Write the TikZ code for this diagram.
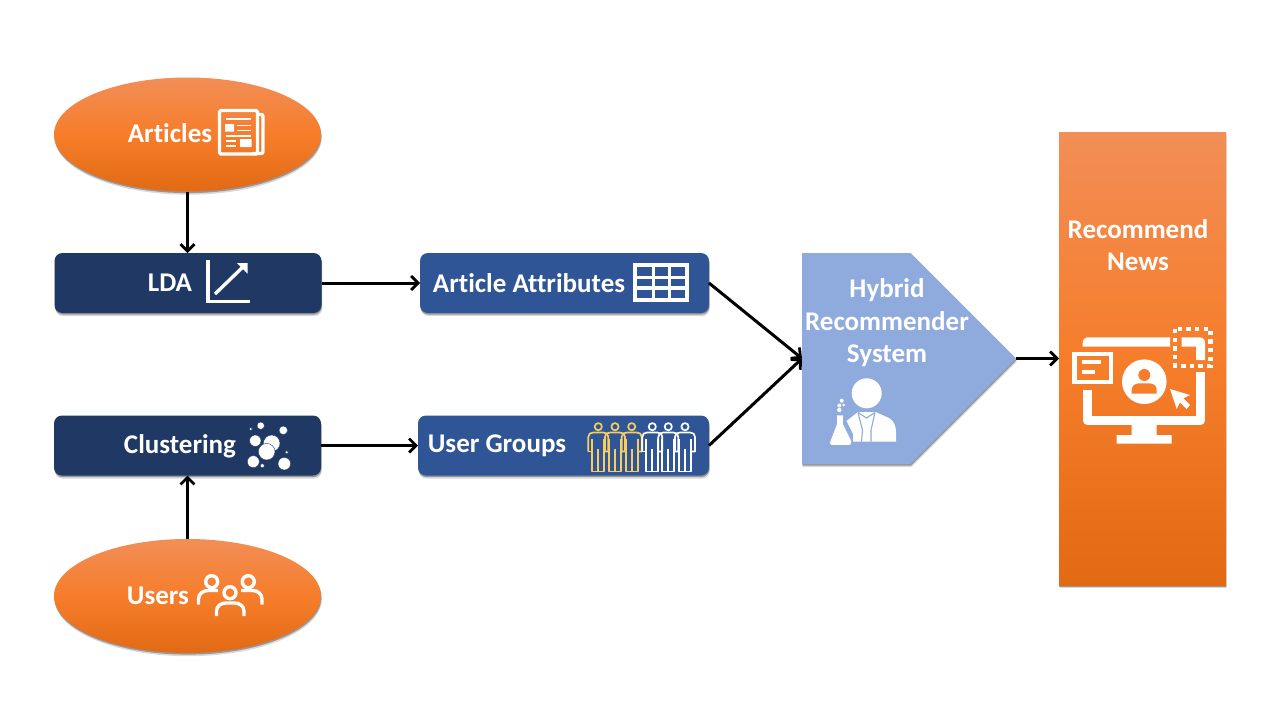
\documentclass[tikz,border=0pt]{standalone}
\usepackage{fontspec}
\setmainfont{Carlito}[Ligatures=NoCommon]
\usetikzlibrary{shapes.geometric,shapes.symbols,shadows,arrows.meta}
\definecolor{ogA}{HTML}{F28E57}
\definecolor{ogB}{HTML}{F67D2A}
\definecolor{ogC}{HTML}{E36A14}
\definecolor{navy}{HTML}{1F3864}
\definecolor{midblue}{HTML}{2F5597}
\definecolor{lightblue}{HTML}{8FAADC}
\definecolor{gold}{HTML}{F7CD5F}
\pgfdeclareverticalshading{orangegrad}{100bp}{color(0bp)=(ogC); color(25bp)=(ogC); color(50bp)=(ogB); color(75bp)=(ogA); color(100bp)=(ogA)}
\tikzset{
  softshadow/.style={drop shadow={shadow xshift=0.8pt,shadow yshift=-3.2pt,opacity=.15,fill=black},
                     drop shadow={shadow xshift=0.4pt,shadow yshift=-1.6pt,opacity=.3,fill=black}},
  orangeoval/.style={ellipse,shade,shading=orangegrad,inner sep=0pt,outer sep=0pt,minimum width=267pt,minimum height=114pt,softshadow},
  darkbox/.style={rectangle,rounded corners=8pt,fill=navy,inner sep=0pt,outer sep=0pt,minimum width=267pt,minimum height=60pt,softshadow},
  bluebox/.style={rectangle,rounded corners=8pt,fill=midblue,inner sep=0pt,outer sep=0pt,minimum height=60pt,softshadow},
  lbl/.style={text=white,font=\fontsize{27}{32.5}\selectfont\bfseries,align=center,inner sep=0pt},
  conn/.style={draw=black,line width=3pt,-{Straight Barb[length=7pt,width=14pt,line width=2.8pt]}},
  ic/.style={draw=white,line width=3.4pt},
  person/.style={line width=1.7pt,line join=round}
}
\newcommand{\personicon}[2]{%
  \draw[person,draw=#2] (#1,426.7) circle (3.6pt);
  \draw[person,draw=#2] (#1-10,451.5) -- (#1-10,437) .. controls (#1-10,434) and (#1-8,432.5) .. (#1-5,432.5) -- (#1+5,432.5) .. controls (#1+8,432.5) and (#1+10,434) .. (#1+10,437) -- (#1+10,451.5) -- (#1+6,451.5);
  \draw[person,draw=#2] (#1-10,451.5) -- (#1-6,451.5);
  \draw[person,draw=#2] (#1-6,439) -- (#1-6,471.5) -- (#1+6,471.5) -- (#1+6,439);
  \draw[person,draw=#2] (#1,449) -- (#1,471.5);
}
\begin{document}
\begin{tikzpicture}[x=1pt,y=-1pt]
\useasboundingbox[fill=white] (0,0) rectangle (1280,720);
% main shapes
\node[orangeoval] (articles) at (187.5,134.5) {};
\node[orangeoval] (users) at (187.5,596) {};
\node[darkbox] (lda) at (188,283) {};
\node[darkbox] (clustering) at (187.5,445.5) {};
\node[bluebox,minimum width=289pt] (attrs) at (564.5,283) {};
\node[bluebox,minimum width=291pt] (groups) at (563.5,445.5) {};
\node[signal,signal from=nowhere,signal to=east,signal pointer angle=90,fill=lightblue,inner sep=0pt,outer sep=0pt,minimum width=214pt,minimum height=211pt,softshadow,anchor=west] (hybrid) at (802,358.5) {};
\node[rectangle,shade,shading=orangegrad,inner sep=0pt,outer sep=0pt,minimum width=167pt,minimum height=453pt,softshadow] (news) at (1142.5,358.5) {};
% connectors
\draw[conn] (articles.south) -- (lda.north -| articles.south);
\draw[conn] (users.north) -- (clustering.south -| users.north);
\draw[conn] (lda.east) -- (attrs.west);
\draw[conn] (clustering.east) -- (groups.west);
\draw[conn] (attrs.east) -- (hybrid.west);
\draw[conn] (groups.east) -- (hybrid.west);
\draw[conn] (hybrid.east) -- (news.west |- hybrid.east);
% labels
\node[lbl] (tArticles) at (170,133) {Articles};
\node[lbl] (tLda) at (170,283) {LDA};
\node[lbl] (tAttrs) at (529,283) {Article Attributes};
\node[lbl] (tClustering) at (180,446) {Clustering};
\node[lbl] (tGroups) at (497,446) {User Groups};
\node[lbl] (tUsers) at (158,596) {Users};
\node[lbl] (tHybrid) at (887,323) {Hybrid\\Recommender\\System};
\node[lbl] (tNews) at (1138,245) {Recommend\\News};
% newspaper icon
\draw[ic,rounded corners=1.5pt] (219.5,110.5) rectangle (257.5,154);
\draw[ic,rounded corners=2pt] (258,114.5) -- (263,114.5) -- (263,153.5) -- (252,153.5);
\draw[white,line width=1.8pt] (226,119) -- (251,119) (237,125.5) -- (251,125.5) (237,130.5) -- (251,130.5) (226,136) -- (251,136) (226,141) -- (236,141) (226,146) -- (236,146);
\fill[white] (225,124) rectangle (234,131.5) (240,139) rectangle (251.5,147);
% chart icon
\draw[ic] (208,260) -- (208,301.5) -- (249.5,301.5);
\draw[ic] (215,294) -- (246,264);
\fill[white] (237,263) -- (247.5,263) -- (247.5,273.5) -- cycle;
% table icon
\draw[ic,line cap=butt] (635,265) rectangle (687,300) (653.5,265) -- (653.5,300) (669.5,265) -- (669.5,300) (635,277.5) -- (687,277.5) (635,288) -- (687,288);
% bubbles icon
\foreach \px/\py/\pr in {260.7/425.7/3.7,283.3/430.3/4.3,250.7/429/1.7,255.3/440.7/5.7,286.7/452.3/1.7,253.3/461.7/6,262.3/465.7/2,284.3/463.7/6.3,271.7/443.3/8.3,266.7/451.7/8.3}{
  \draw[fill=white,draw=navy,line width=.4pt] (\px,\py) circle (\pr pt);
}
% users icon
\foreach \px/\py in {211.7/581.7,248.3/581.7,230/592.7}{ \draw[ic] (\px,\py) circle (6pt); }
\draw[ic] (198.5,604.5) -- (198.5,599) .. controls (198.5,594) and (203,590.5) .. (208,590.5) -- (218,590.5);
\draw[ic] (262,604.5) -- (262,599) .. controls (262,594) and (257.5,590.5) .. (252.5,590.5) -- (241,590.5);
\draw[ic] (216.5,616) -- (216.5,611) .. controls (216.5,606) and (221,603) .. (226,603) -- (234.5,603) .. controls (239.5,603) and (244,606) .. (244,611) -- (244,616);
% user group icon
\personicon{598.3}{gold}\personicon{615}{gold}\personicon{631.7}{gold}
\personicon{652.3}{white}\personicon{668.3}{white}\personicon{685}{white}
% scientist icon
\fill[white] (866.7,393.3) circle (15pt);
\fill[white] (846.5,421) -- (858,412) -- (875.5,412) -- (889,418) .. controls (894,421) and (896,426) .. (896,432) -- (896,441.7) -- (853,441.7) -- (853,434) -- cycle;
\draw[lightblue,line width=1.1pt] (858,412.5) -- (862.5,430) -- (861.5,441.7) (875,412.5) -- (871,430) -- (871,441.7) (858,412.5) -- (866.5,418) -- (875,412.5);
\fill[white,draw=lightblue,line width=.8pt] (836.5,415) -- (843.5,415) -- (843.5,424) -- (851.8,441) .. controls (852.5,444) and (851,445.5) .. (849,445.5) -- (832,445.5) .. controls (830,445.5) and (829,444) .. (830,441) -- (836.5,424) -- cycle;
\foreach \px/\py/\pr in {841.7/400.7/2,839.3/405.5/2,843.7/405/1.5,839.3/410/2.2}{ \fill[white] (\px,\py) circle (\pr pt); }
% monitor icon
\draw[white,line width=9pt,line join=round] (1087.2,390) -- (1087.2,420.7) -- (1200.5,420.7) -- (1200.5,371.7);
\fill[white] (1082.7,346.7) -- (1082.7,343) .. controls (1082.7,339) and (1085,337.3) .. (1089,337.3) -- (1170,337.3) -- (1170,346.7) -- cycle;
\fill[white] (1181.7,337.3) -- (1199,337.3) .. controls (1203,337.3) and (1205,339.5) .. (1205,343) -- (1205,360) -- (1196,360) -- (1196,346.7) -- (1181.7,346.7) -- cycle;
\fill[white] (1131.7,425) rectangle (1156.7,435) (1116.7,435) rectangle (1171.7,443.5);
\draw[white,line width=4.4pt,dash pattern=on 4.4pt off 4.2pt] (1175.2,329) rectangle (1210.5,366);
\draw[white,line width=4.3pt,fill=ogB] (1074.5,354) rectangle (1111,382);
\draw[white,line width=4.3pt] (1082.3,362.3) -- (1101,362.3) (1082.3,371.7) -- (1095,371.7);
\fill[white] (1144.3,381.7) circle (22.3pt);
\fill[ogB] (1144.3,375) circle (6pt);
\fill[ogB] (1131.7,393.5) -- (1131.7,390) .. controls (1131.7,385) and (1136,383.3) .. (1140,383.3) -- (1148.5,383.3) .. controls (1153,383.3) and (1156.7,385) .. (1156.7,390) -- (1156.7,393.5) -- cycle;
\fill[white] (1170,389) -- (1190,395) -- (1183.3,398.3) -- (1190,405) -- (1186.7,409) -- (1180,402.3) -- (1176.7,409) -- cycle;
\end{tikzpicture}
\end{document}
